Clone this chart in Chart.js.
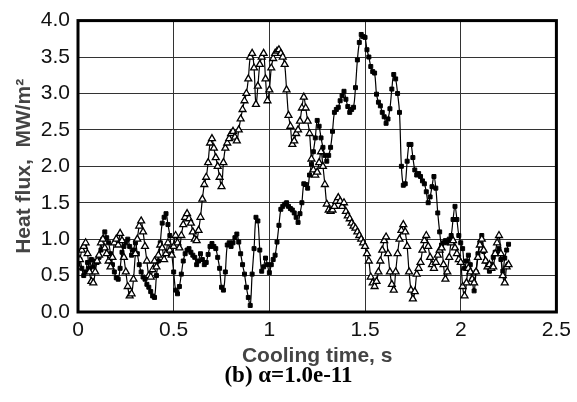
<!DOCTYPE html>
<html>
<head>
<meta charset="utf-8">
<script src="https://cdn.jsdelivr.net/npm/chart.js@4/dist/chart.umd.min.js"></script>
<style>
  html, body { margin: 0; padding: 0; background: #fff; }
  canvas { display: block; }
</style>
</head>
<body>
<canvas id="fluxChart" width="577" height="402"></canvas>
<script>
// heat flux samples, MW/m2, one every 0.01 s starting at t = 0
const fluxOpen = [
  0.62, 0.72, 0.85, 0.90, 0.95, 0.80, 0.55, 0.42, 0.40, 0.55,
  0.70, 0.78, 0.95, 1.00, 0.88, 0.80, 0.70, 0.62, 0.75, 0.95,
  1.00, 0.92, 1.08, 0.98, 0.75, 0.55, 0.35, 0.22, 0.25, 0.45,
  0.80, 1.00, 1.18, 1.25, 1.10, 0.90, 0.70, 0.50, 0.48, 0.58,
  0.70, 0.62, 0.78, 0.92, 0.88, 0.72, 0.80, 0.95, 0.85, 0.78,
  0.90, 1.05, 0.95, 0.88, 1.05, 1.20, 1.30, 1.35, 1.28, 1.22,
  1.10, 1.00, 0.98, 1.12, 1.30, 1.55, 1.75, 1.85, 2.05, 2.32,
  2.38, 2.25, 2.12, 2.00, 1.85, 1.72, 2.05, 2.25, 2.32, 2.38,
  2.45, 2.48, 2.40, 2.35, 2.50, 2.65, 2.78, 2.90, 3.00, 3.20,
  3.50, 3.55, 3.35, 2.85, 3.10, 3.40, 3.50, 3.55, 3.20, 2.90,
  3.05, 3.35, 3.48, 3.55, 3.58, 3.60, 3.55, 3.50, 3.40, 3.05,
  2.70, 2.55, 2.30, 2.35, 2.45, 2.50, 2.62, 2.80, 2.95, 2.80,
  2.62, 2.45, 2.10, 1.95, 1.88, 1.92, 2.05, 2.20, 2.00, 1.75,
  1.48, 1.40, 1.38, 1.40, 1.45, 1.52, 1.57, 1.52, 1.45, 1.50,
  1.38, 1.32, 1.28, 1.22, 1.18, 1.15, 1.10, 1.05, 1.00, 0.95,
  0.90, 0.80, 0.70, 0.48, 0.40, 0.35, 0.42, 0.55, 0.70, 0.85,
  0.98, 1.03, 0.80, 0.55, 0.38, 0.30, 0.55, 0.80, 1.00, 1.12,
  1.20, 1.10, 0.90, 0.55, 0.30, 0.18, 0.28, 0.52, 0.60, 0.68,
  0.85, 0.98, 1.05, 0.90, 0.75, 0.65, 0.60, 0.68, 0.78, 0.85,
  0.88, 0.65, 0.45, 0.55, 0.75, 0.95, 0.98, 0.88, 0.80, 0.72,
  0.68, 0.35, 0.22, 0.40, 0.60, 0.55, 0.45, 0.40, 0.55, 0.75,
  0.92, 1.00, 0.85, 0.70, 0.62, 0.65, 0.60, 0.62, 0.80, 0.95,
  1.05, 0.80, 0.50, 0.40, 0.62, 0.65
];

const fluxFilled = [
  0.65, 0.72, 0.60, 0.50, 0.55, 0.68, 0.60, 0.72, 0.62, 0.70,
  0.68, 0.75, 0.85, 1.00, 1.10, 1.02, 0.95, 0.80, 0.65, 0.55,
  0.47, 0.45, 0.60, 0.82, 0.90, 0.95, 1.00, 0.90, 0.78, 0.85,
  0.95, 0.80, 0.65, 0.55, 0.48, 0.45, 0.38, 0.34, 0.28, 0.22,
  0.20, 0.50, 0.70, 0.95, 1.22, 1.30, 1.35, 1.20, 1.05, 0.80,
  0.55, 0.30, 0.25, 0.35, 0.52, 0.70, 0.80, 0.85, 0.87, 0.82,
  0.78, 0.75, 0.65, 0.70, 0.80, 0.72, 0.65, 0.68, 0.79, 0.90,
  0.94, 0.90, 0.87, 0.75, 0.60, 0.34, 0.30, 0.55, 0.92, 0.95,
  0.90, 0.95, 1.02, 1.07, 0.96, 0.80, 0.65, 0.52, 0.34, 0.20,
  0.09, 0.52, 0.87, 1.30, 1.25, 0.85, 0.56, 0.62, 0.74, 0.65,
  0.54, 0.65, 0.72, 0.78, 0.96, 1.19, 1.41, 1.45, 1.48, 1.50,
  1.45, 1.42, 1.40, 1.36, 1.30, 1.23, 1.35, 1.50, 1.76, 1.75,
  1.70, 1.88, 2.03, 2.20, 2.39, 2.63, 2.55, 2.39, 2.26, 2.15,
  2.07, 2.15, 2.26, 2.48, 2.74, 2.78, 2.81, 2.90, 2.97, 3.03,
  2.92, 2.82, 2.74, 2.78, 2.81, 3.08, 3.46, 3.70, 3.81, 3.78,
  3.77, 3.60, 3.50, 3.37, 3.30, 3.28, 2.99, 2.88, 2.83, 2.74,
  2.68, 2.59, 2.65, 2.79, 3.06, 3.26, 3.20, 3.00, 2.74, 2.00,
  1.74, 1.76, 2.07, 2.30, 2.30, 2.12, 1.95, 1.88, 1.90, 1.86,
  1.80, 1.76, 1.65, 1.50, 1.58, 1.72, 1.86, 1.70, 1.36, 1.10,
  0.92, 0.95, 0.98, 0.95, 1.00, 1.05, 1.27, 1.45, 1.27, 1.05,
  0.95, 0.87, 0.60, 0.70, 0.78, 0.65, 0.45, 0.29, 0.55, 0.80,
  0.95, 1.05, 0.83, 0.70, 0.62, 0.56, 0.65, 0.75, 0.82, 0.80,
  0.87, 0.72, 0.56, 0.74, 0.85, 0.93
];

// sampling clock of the record
const dt = 0.01;
const times = fluxOpen.map((_, i) => +(i * dt).toFixed(2));

const xTicks = [0, 0.5, 1, 1.5, 2, 2.5];
const yTicks = [0, 0.5, 1, 1.5, 2, 2.5, 3, 3.5, 4];
const caption = '(b) α=1.0e-11';

// heavy black frame around the plot area, caption under the x title
const frame = {
  id: 'frame',
  afterDraw(chart) {
    const { ctx, chartArea: a, width } = chart;
    ctx.save();
    ctx.strokeStyle = '#000';
    ctx.lineWidth = 3;
    ctx.strokeRect(a.left, a.top, a.right - a.left, a.bottom - a.top);
    ctx.fillStyle = '#000';
    ctx.font = 'bold 23px "Liberation Serif", "Times New Roman", serif';
    ctx.textAlign = 'center';
    ctx.textBaseline = 'middle';
    ctx.fillText(caption, width / 2, 376);
    ctx.restore();
  }
};

const tickFont = { family: 'Liberation Sans, Arial', size: 21 };
const titleFont = { family: 'Liberation Sans, Arial', size: 21, weight: 'bold' };

new Chart(document.getElementById('fluxChart'), {
  type: 'line',
  data: {
    labels: times,
    datasets: [
      {
        data: fluxOpen,
        borderColor: '#000',
        borderWidth: 1.2,
        tension: 0.4,
        pointStyle: 'triangle',
        pointRadius: 4,
        pointBackgroundColor: '#fff',
        pointBorderColor: '#000',
        pointBorderWidth: 1.3
      },
      {
        data: fluxFilled,
        borderColor: '#000',
        borderWidth: 1.2,
        tension: 0.4,
        pointStyle: 'rect',
        pointRadius: 2.8,
        pointBackgroundColor: '#000',
        pointBorderColor: '#000',
        pointBorderWidth: 1
      }
    ]
  },
  options: {
    responsive: false,
    animation: false,
    devicePixelRatio: 1,
    layout: { padding: { top: 13, right: 18, left: 0, bottom: 35 } },
    plugins: {
      legend: { display: false },
      tooltip: { enabled: false },
      title: { display: false }
    },
    scales: {
      x: {
        type: 'linear',
        min: 0,
        max: 2.5,
        afterBuildTicks: s => { s.ticks = xTicks.map(v => ({ value: v })); },
        afterFit: s => { s.height = 55; },
        ticks: { color: '#111', font: tickFont, padding: 6, maxRotation: 0, callback: v => String(v) },
        grid: { color: '#333', lineWidth: 1, drawTicks: false },
        border: { display: false },
        title: {
          display: true, text: 'Cooling time, s', color: '#444',
          font: { ...titleFont, lineHeight: 1 }, padding: { top: 0, bottom: 0 }
        }
      },
      y: {
        min: 0,
        max: 4,
        afterBuildTicks: s => { s.ticks = yTicks.map(v => ({ value: v })); },
        afterFit: s => { s.width = 78; },
        ticks: { color: '#111', font: tickFont, padding: 8, callback: v => v.toFixed(1) },
        grid: { color: '#333', lineWidth: 1, drawTicks: false },
        border: { display: false },
        title: { display: true, text: 'Heat flux,  MW/m²', color: '#444', font: titleFont, padding: { top: 12, bottom: 0 } }
      }
    }
  },
  plugins: [frame]
});
</script>
</body>
</html>
